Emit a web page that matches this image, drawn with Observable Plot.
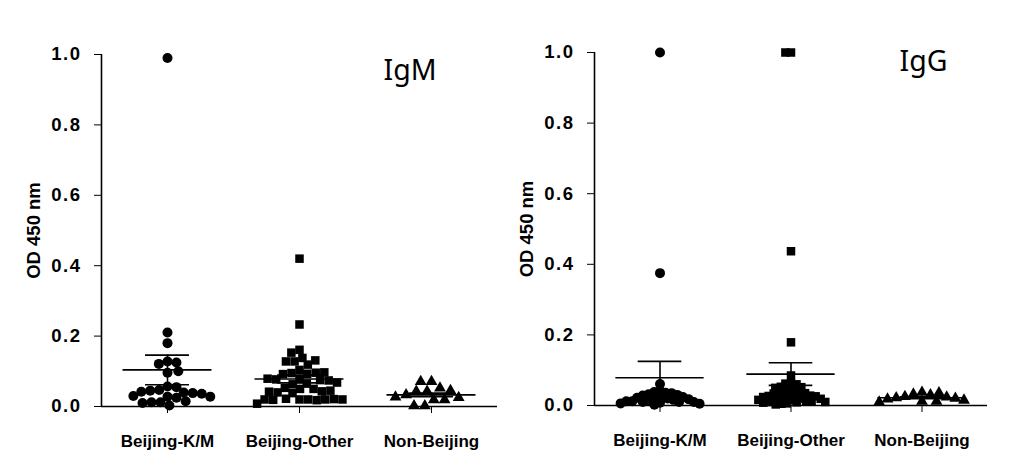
<!DOCTYPE html>
<html><head><meta charset="utf-8">
<script src="https://cdn.jsdelivr.net/npm/d3@7"></script>
<script src="https://cdn.jsdelivr.net/npm/@observablehq/plot@0.6"></script>
<style>
body{margin:0;background:#fff;}
#row{display:flex;width:1036px;height:464px;overflow:hidden;}
#row svg{display:block;}
#row g[aria-label="y-axis tick label"] text{letter-spacing:1.5px;}
</style></head><body><div id="row"></div>
<script>
const categories = ["Beijing-K/M", "Beijing-Other", "Non-Beijing"];
const yTicks = [0, 0.2, 0.4, 0.6, 0.8, 1.0];

// IgM panel
const igmKM = [0.99, 0.21, 0.18, 0.128, 0.121, 0.125, 0.096, 0.100, 0.057, 0.047, 0.055, 0.045, 0.040, 0.038, 0.042, 0.036, 0.028, 0.025, 0.030, 0.028, 0.012, 0.003, 0.012, 0.015, 0.010];
const igmOther = [0.42, 0.233, 0.161, 0.153, 0.138, 0.128, 0.119, 0.128, 0.131, 0.104, 0.095, 0.093, 0.096, 0.092, 0.097, 0.078, 0.075, 0.077, 0.074, 0.079, 0.063, 0.065, 0.068, 0.053, 0.050, 0.050, 0.043, 0.040, 0.038, 0.042, 0.045, 0.020, 0.020, 0.022, 0.018, 0.020, 0.021, 0.019, 0.020, 0.020, 0.008];
const igmNon = [0.071, 0.071, 0.052, 0.043, 0.043, 0.045, 0.033, 0.025, 0.027, 0.019, 0.019, 0.002, 0.002];
const igmMean = [0.104, 0.078, 0.033];
const igmSem = [0.042, 0.011, 0.005];

// IgG panel
const iggKM = [1.0, 0.375, 0.061, 0.042, 0.038, 0.036, 0.035, 0.032, 0.030, 0.028, 0.025, 0.024, 0.022, 0.020, 0.020, 0.018, 0.016, 0.014, 0.012, 0.012, 0.010, 0.010, 0.010, 0.008, 0.006, 0.005, 0.002];
const iggOther = [1.0, 1.0, 0.437, 0.179, 0.085, 0.063, 0.062, 0.060, 0.053, 0.052, 0.050, 0.048, 0.040, 0.038, 0.037, 0.036, 0.035, 0.034, 0.030, 0.028, 0.027, 0.026, 0.025, 0.024, 0.022, 0.020, 0.020, 0.019, 0.018, 0.016, 0.015, 0.012, 0.012, 0.010, 0.010, 0.009, 0.008, 0.006, 0.005, 0.003];
const iggNon = [0.037, 0.032, 0.030, 0.036, 0.025, 0.024, 0.022, 0.020, 0.018, 0.015, 0.012, 0.012, 0.010];
const iggMean = [0.0785, 0.089, 0.022];
const iggSem = [0.0465, 0.032, 0.003];

const yLabel = "OD 450 nm";
const titles = ["IgM", "IgG"];

function panel(cfg) {
  const {title, series, means, sems, width, ml, mr, mt, mb, titleDx, titleDy, pads} = cfg;
  const pts = series.flatMap((vals, i) => vals.map(v => ({cat: categories[i], v})));
  const stats = categories.map((c, i) => ({cat: c, mean: means[i], lo: means[i] - sems[i], hi: means[i] + sems[i]}));
  const symbols = ["circle", "square", "triangle"];
  const radii = [5, 4.8, 4.4];
  const black = "#000";
  return Plot.plot({
    width, height: 464,
    marginLeft: ml, marginRight: mr, marginTop: mt, marginBottom: mb,
    style: {fontFamily: "'Liberation Sans', Arial, sans-serif", fontWeight: "bold", fontSize: "17px", color: "#000", background: "#fff", overflow: "visible"},
    fx: {domain: categories, padding: 0, label: null},
    x: {domain: [-1, 1], axis: null},
    y: {domain: [0, 1], axis: null},
    marks: [
      ...categories.map((c, i) => Plot.dot(pts.filter(d => d.cat === c),
        Plot.dodgeX({anchor: "middle", padding: pads[i]}, {fx: "cat", y: "v", r: radii[i], symbol: symbols[i], fill: black, stroke: null}))),
      Plot.ruleY(stats, {fx: "cat", y: "mean", x1: () => -0.674, x2: () => 0.674, stroke: black, strokeWidth: 1.6}),
      Plot.ruleY(stats, {fx: "cat", y: "hi", x1: () => -0.333, x2: () => 0.333, stroke: black, strokeWidth: 1.6}),
      Plot.ruleY(stats, {fx: "cat", y: "lo", x1: () => -0.333, x2: () => 0.333, stroke: black, strokeWidth: 1.6}),
      Plot.ruleX(stats, {fx: "cat", x: () => 0, y1: "lo", y2: "hi", stroke: black, strokeWidth: 1.6}),
      Plot.ruleY([0], {stroke: black, strokeWidth: 1.6}),
      Plot.ruleX([categories[0]], {fx: d => d, x: () => -1, y1: () => 0, y2: () => 1, stroke: black, strokeWidth: 1.6}),
      Plot.axisY({ticks: yTicks, tickFormat: d3.format(".1f"), tickSize: 7, tickPadding: 13, label: yLabel, labelArrow: "none", labelAnchor: "center", labelOffset: 75, fontSize: 18.5}),
      Plot.axisFx({anchor: "bottom", tickSize: 7, tickPadding: 21, label: null, fontSize: 17}),
      Plot.text([title], {fx: () => categories[2], frameAnchor: "top-left", lineAnchor: "top", textAnchor: "start", dx: titleDx, dy: titleDy, fontSize: 28.5, fontWeight: "normal", fontFamily: "'Noto Sans', sans-serif", fill: black})
    ]
  });
}

const row = document.getElementById("row");
row.append(panel({title: titles[0], series: [igmKM, igmOther, igmNon], means: igmMean, sems: igmSem, width: 514, ml: 100, mr: 17, mt: 54, mb: 58, titleDx: 18, titleDy: 5, pads: [-1, -1, 2]}));
row.append(panel({title: titles[1], series: [iggKM, iggOther, iggNon], means: iggMean, sems: iggSem, width: 522, ml: 79, mr: 48, mt: 52, mb: 59, titleDx: 43, titleDy: -2, pads: [-4, -4, 0]}));
</script>
</body></html>
